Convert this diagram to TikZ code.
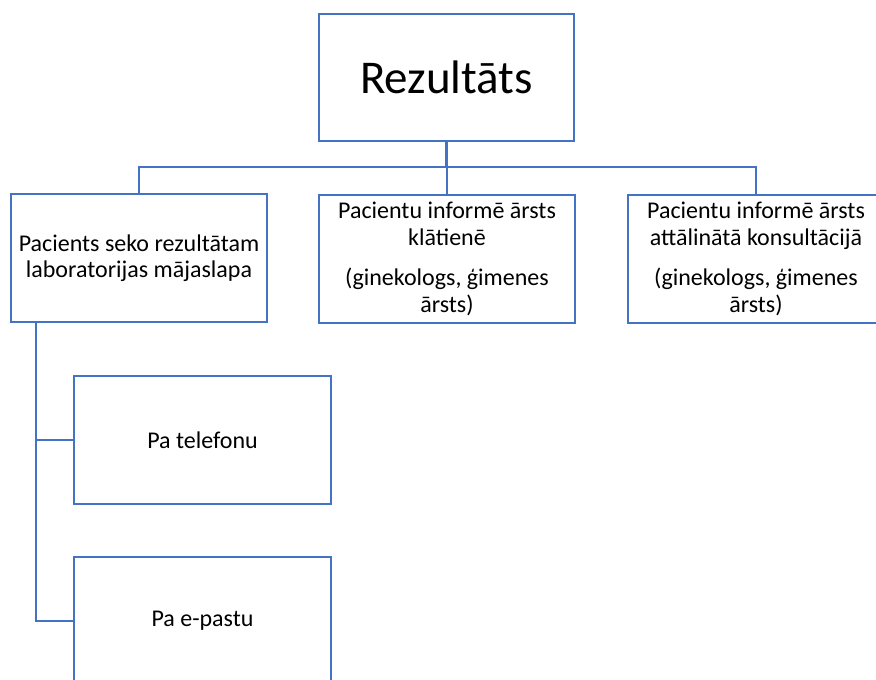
\documentclass[tikz,border=0pt]{standalone}
\usepackage{fontspec}
\setmainfont{Carlito}
\definecolor{boxblue}{HTML}{4472C4}
\begin{document}
\begin{tikzpicture}[x=1pt,y=-1pt,
  box/.style={draw=boxblue,line width=2.6pt,fill=white,minimum width=256pt,minimum height=128pt,inner sep=0pt,align=center,font=\fontsize{24}{26.5}\selectfont},
  link/.style={draw=boxblue,line width=2.6pt}]
\useasboundingbox (0,0) rectangle (876,680);
\clip (0,0) rectangle (876,680);
\node[box,minimum width=255pt,minimum height=127pt,font=\fontsize{47}{56}\selectfont] (res) at (446.5,77.5) {Rezultāts};
\node[box] (web) at (139,258) {Pacients seko rezultātam\\laboratorijas mājaslapa};
\node[box] (visit) at (447,259) {Pacientu informē ārsts\\klātienē\\[14pt](ginekologs, ģimenes\\ārsts)};
\node[box] (remote) at (756,259) {Pacientu informē ārsts\\attālinātā konsultācijā\\[14pt](ginekologs, ģimenes\\ārsts)};
\node[box,minimum width=257pt] (phone) at (202.5,440) {Pa telefonu};
\node[box,minimum width=257pt] (mail) at (202.5,621) {Pa e-pastu};
\coordinate (bus) at (0,167);
\coordinate (trunk) at (36,0);
\draw[link] (res.south) -- (res.south |- bus);
\draw[link] (web.north) -- (web.north |- bus) -- (remote.north |- bus) -- (remote.north);
\draw[link] (visit.north |- bus) -- (visit.north);
\draw[link] (trunk |- web.south) |- (mail.west);
\draw[link] (trunk |- phone.west) -- (phone.west);
\end{tikzpicture}
\end{document}
